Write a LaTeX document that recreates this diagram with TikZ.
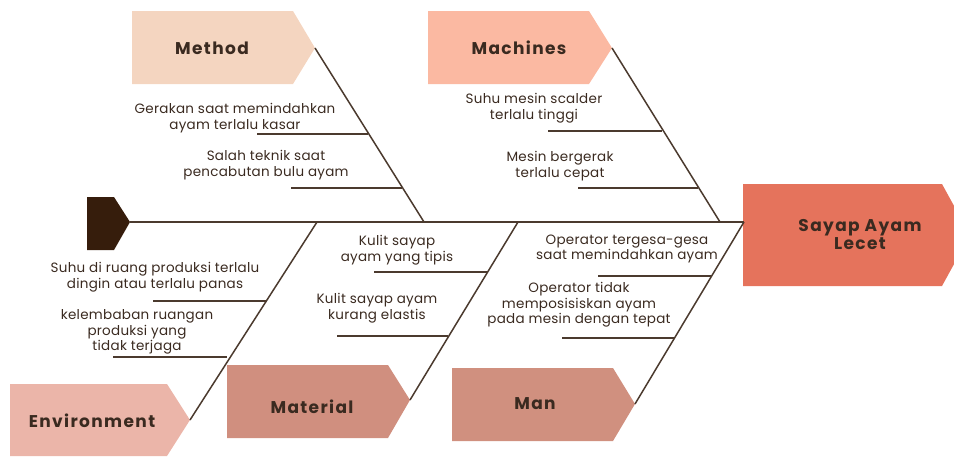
\documentclass[tikz,border=0pt]{standalone}
\usepackage{fontspec}
\setmainfont{Poppins}
\newfontfamily\headfont[LetterSpace=8]{Poppins}
\newfontfamily\bodyfont[LetterSpace=2]{Poppins}
\definecolor{cMethod}{HTML}{F4D5C0}
\definecolor{cMach}{HTML}{FBB9A2}
\definecolor{cHead}{HTML}{E5735C}
\definecolor{cEnv}{HTML}{EBB5A9}
\definecolor{cMat}{HTML}{D08F7F}
\definecolor{cMan}{HTML}{D0907F}
\definecolor{cTail}{HTML}{361D0C}
\definecolor{cLine}{HTML}{4B3A2E}
\definecolor{cText}{HTML}{3A2A20}
\tikzset{
  bone/.style={draw=cLine, line width=1.5pt},
  head/.style={text=cText, font=\headfont\bfseries\fontsize{17}{18}\selectfont, align=center, inner sep=0pt},
  cause/.style={text=cText, font=\bodyfont\fontsize{13.5}{15.5}\selectfont, align=center, inner sep=0pt},
}
\begin{document}
\begin{tikzpicture}[x=1pt,y=-1pt]
\useasboundingbox (0,0) rectangle (954,456);
\clip (0,0) rectangle (954,456);
% category boxes
\fill[cMethod] (132,11) -- (293,11) -- (315,48) -- (293,84) -- (132,84) -- cycle;
\fill[cMach] (428,11) -- (589,11) -- (612,48) -- (589,84) -- (428,84) -- cycle;
\fill[cHead] (743,184) -- (942,184) -- (970,235) -- (942,286) -- (743,286) -- cycle;
\fill[cEnv] (10,384) -- (167,384) -- (190,420) -- (167,456) -- (10,456) -- cycle;
\fill[cMat] (227,365) -- (388,365) -- (410,400) -- (388,438) -- (227,438) -- cycle;
\fill[cMan] (452,368) -- (613,368) -- (635,404) -- (613,441) -- (452,441) -- cycle;
\fill[cTail] (87,197) -- (114,197) -- (130,222) -- (114,250) -- (87,250) -- cycle;
% labels
\node[head] (method) at (212,48) {Method};
\node[head] (mach) at (519,48) {Machines};
\node[head] (effect) at (860,235) {Sayap Ayam\\Lecet};
\node[head] (env) at (92,421) {Environment};
\node[head] (mat) at (312,407) {Material};
\node[head] (man) at (535,404) {Man};
% coordinates
\coordinate (tail) at (130,222);
\coordinate (spineEnd) at (744,222);
\coordinate (tMethod) at (315,48);
\coordinate (jMethod) at (424,222);
\coordinate (tMach) at (612,48);
\coordinate (jMach) at (720,222);
\coordinate (tEnv) at (190,420);
\coordinate (jEnv) at (317,222);
\coordinate (tMat) at (410,400);
\coordinate (jMat) at (518,222);
\coordinate (tMan) at (635,404);
\coordinate (jMan) at (744,222);
% spine and bones
\draw[bone] (tail) -- (spineEnd);
\draw[bone] (tMethod) -- (jMethod);
\draw[bone] (tMach) -- (jMach);
\draw[bone] (tEnv) -- (jEnv);
\draw[bone] (tMat) -- (jMat);
\draw[bone] (tMan) -- (jMan);
% sub causes
\coordinate (m1a) at (257,134); \coordinate (m1b) at (368,134);
\coordinate (m2a) at (291,188); \coordinate (m2b) at (402,188);
\draw[bone] (m1a) -- (m1b);
\draw[bone] (m2a) -- (m2b);
\node[cause] (m1) at (235,118) {Gerakan saat memindahkan\\ayam terlalu kasar};
\node[cause] (m2) at (266,165) {Salah teknik saat\\pencabutan bulu ayam};
\coordinate (c1a) at (548,131); \coordinate (c1b) at (662,131);
\coordinate (c2a) at (578,188); \coordinate (c2b) at (698,188);
\draw[bone] (c1a) -- (c1b);
\draw[bone] (c2a) -- (c2b);
\node[cause] (c1) at (534,108) {Suhu mesin scalder\\terlalu tinggi};
\node[cause] (c2) at (560,166) {Mesin bergerak\\terlalu cepat};
\coordinate (e1a) at (153,301); \coordinate (e1b) at (267,301);
\coordinate (e2a) at (113,357); \coordinate (e2b) at (227,357);
\draw[bone] (e1a) -- (e1b);
\draw[bone] (e2a) -- (e2b);
\node[cause] (e1) at (155,277) {Suhu di ruang produksi terlalu\\dingin atau terlalu panas};
\node[cause] (e2) at (137,332) {kelembaban ruangan\\produksi yang\\tidak terjaga};
\coordinate (a1a) at (374,272); \coordinate (a1b) at (488,272);
\coordinate (a2a) at (337,336); \coordinate (a2b) at (448,336);
\draw[bone] (a1a) -- (a1b);
\draw[bone] (a2a) -- (a2b);
\node[cause] (a1) at (397,250) {Kulit sayap\\ayam yang tipis};
\node[cause] (a2) at (377,308) {Kulit sayap ayam\\kurang elastis};
\coordinate (n1a) at (598,276); \coordinate (n1b) at (712,276);
\coordinate (n2a) at (562,338); \coordinate (n2b) at (674,338);
\draw[bone] (n1a) -- (n1b);
\draw[bone] (n2a) -- (n2b);
\node[cause] (n1) at (627,249) {Operator tergesa-gesa\\saat memindahkan ayam};
\node[cause] (n2) at (579,305) {Operator tidak\\memposisiskan ayam\\pada mesin dengan tepat};
\end{tikzpicture}
\end{document}
